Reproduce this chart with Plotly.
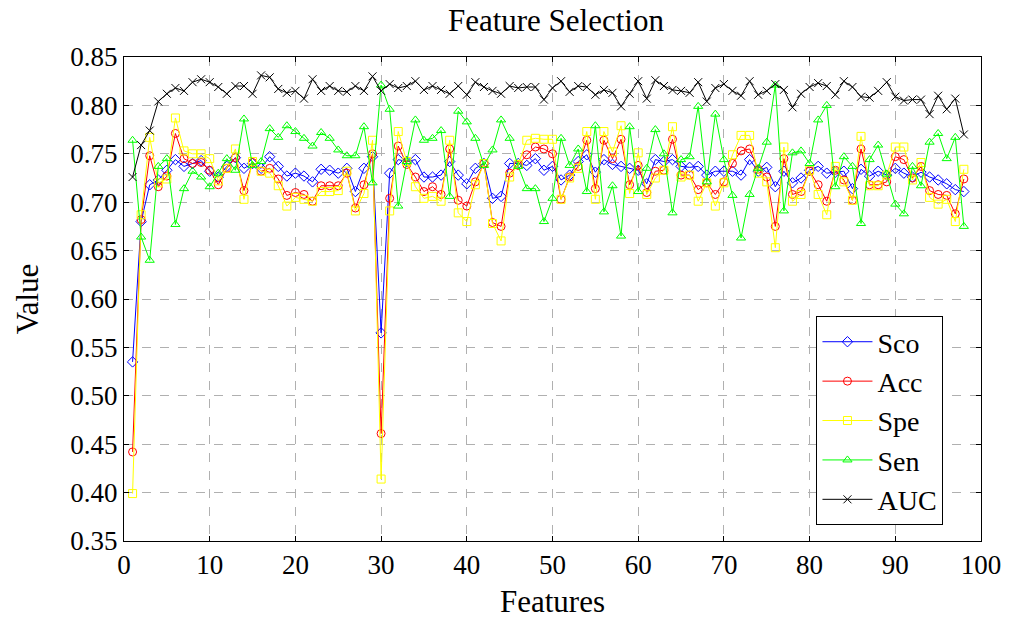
import plotly.graph_objects as go

features = list(range(1, 99))

sco = [0.535, 0.680, 0.718, 0.723, 0.733, 0.744, 0.737, 0.740, 0.743, 0.732,
       0.726, 0.737, 0.746, 0.735, 0.740, 0.735, 0.747, 0.737, 0.727, 0.730,
       0.727, 0.721, 0.734, 0.733, 0.730, 0.735, 0.711, 0.735, 0.747, 0.565,
       0.730, 0.744, 0.742, 0.744, 0.726, 0.726, 0.728, 0.742, 0.728, 0.719,
       0.735, 0.740, 0.704, 0.706, 0.740, 0.740, 0.738, 0.745, 0.733, 0.737,
       0.723, 0.728, 0.742, 0.749, 0.731, 0.744, 0.739, 0.737, 0.735, 0.733,
       0.719, 0.744, 0.742, 0.744, 0.737, 0.736, 0.737, 0.728, 0.732, 0.732,
       0.732, 0.728, 0.744, 0.732, 0.736, 0.716, 0.732, 0.720, 0.725, 0.733,
       0.737, 0.730, 0.731, 0.732, 0.714, 0.734, 0.727, 0.732, 0.728, 0.735,
       0.730, 0.726, 0.731, 0.726, 0.723, 0.719, 0.713, 0.711]

acc = [0.442, 0.682, 0.748, 0.716, 0.727, 0.771, 0.745, 0.740, 0.741, 0.733,
       0.718, 0.735, 0.746, 0.712, 0.741, 0.732, 0.735, 0.724, 0.707, 0.710,
       0.708, 0.701, 0.717, 0.717, 0.717, 0.730, 0.694, 0.718, 0.750, 0.461,
       0.704, 0.758, 0.739, 0.726, 0.711, 0.716, 0.708, 0.755, 0.702, 0.696,
       0.721, 0.740, 0.679, 0.675, 0.730, 0.738, 0.749, 0.757, 0.755, 0.750,
       0.703, 0.726, 0.737, 0.764, 0.714, 0.764, 0.745, 0.765, 0.718, 0.738,
       0.710, 0.732, 0.733, 0.765, 0.728, 0.728, 0.713, 0.720, 0.708, 0.721,
       0.740, 0.753, 0.755, 0.734, 0.726, 0.675, 0.745, 0.708, 0.711, 0.732,
       0.718, 0.701, 0.733, 0.723, 0.702, 0.755, 0.718, 0.718, 0.721, 0.747,
       0.744, 0.725, 0.737, 0.712, 0.708, 0.707, 0.688, 0.724]

spe = [0.399, 0.687, 0.767, 0.720, 0.724, 0.787, 0.753, 0.750, 0.750, 0.745,
       0.722, 0.735, 0.755, 0.703, 0.742, 0.732, 0.730, 0.717, 0.696, 0.705,
       0.703, 0.701, 0.711, 0.711, 0.712, 0.732, 0.691, 0.709, 0.764, 0.414,
       0.691, 0.773, 0.742, 0.716, 0.704, 0.706, 0.701, 0.764, 0.689, 0.680,
       0.718, 0.740, 0.678, 0.660, 0.726, 0.739, 0.764, 0.766, 0.765, 0.765,
       0.703, 0.725, 0.735, 0.773, 0.703, 0.773, 0.752, 0.779, 0.709, 0.751,
       0.708, 0.725, 0.733, 0.778, 0.726, 0.728, 0.701, 0.720, 0.696, 0.720,
       0.749, 0.769, 0.769, 0.730, 0.721, 0.653, 0.757, 0.701, 0.708, 0.733,
       0.708, 0.687, 0.737, 0.721, 0.702, 0.768, 0.717, 0.717, 0.728, 0.757,
       0.757, 0.723, 0.741, 0.705, 0.698, 0.703, 0.680, 0.734]

sen = [0.764, 0.664, 0.640, 0.737, 0.745, 0.677, 0.714, 0.732, 0.726, 0.716,
       0.730, 0.745, 0.733, 0.786, 0.738, 0.742, 0.776, 0.767, 0.779, 0.773,
       0.766, 0.758, 0.772, 0.766, 0.754, 0.748, 0.748, 0.778, 0.720, 0.821,
       0.796, 0.696, 0.742, 0.785, 0.764, 0.766, 0.774, 0.706, 0.794, 0.783,
       0.766, 0.738, 0.754, 0.785, 0.766, 0.737, 0.714, 0.714, 0.680, 0.704,
       0.766, 0.738, 0.755, 0.711, 0.779, 0.690, 0.717, 0.665, 0.778, 0.711,
       0.735, 0.775, 0.750, 0.689, 0.744, 0.747, 0.799, 0.721, 0.791, 0.744,
       0.707, 0.663, 0.708, 0.735, 0.762, 0.821, 0.691, 0.751, 0.753, 0.740,
       0.785, 0.800, 0.716, 0.747, 0.737, 0.678, 0.744, 0.759, 0.729, 0.698,
       0.688, 0.737, 0.717, 0.762, 0.771, 0.745, 0.767, 0.675]

auc = [0.726, 0.759, 0.774, 0.804, 0.812, 0.818, 0.815, 0.824, 0.827, 0.824,
       0.819, 0.812, 0.820, 0.820, 0.812, 0.831, 0.829, 0.817, 0.813, 0.815,
       0.807, 0.827, 0.815, 0.820, 0.815, 0.814, 0.820, 0.815, 0.830, 0.815,
       0.822, 0.818, 0.820, 0.825, 0.816, 0.820, 0.816, 0.812, 0.820, 0.811,
       0.824, 0.819, 0.815, 0.812, 0.820, 0.818, 0.819, 0.819, 0.806, 0.818,
       0.825, 0.814, 0.820, 0.819, 0.811, 0.816, 0.813, 0.799, 0.812, 0.825,
       0.807, 0.826, 0.820, 0.816, 0.815, 0.813, 0.824, 0.804, 0.818, 0.822,
       0.815, 0.810, 0.825, 0.811, 0.815, 0.822, 0.816, 0.798, 0.812, 0.819,
       0.823, 0.820, 0.811, 0.825, 0.819, 0.809, 0.808, 0.815, 0.824, 0.809,
       0.805, 0.806, 0.806, 0.791, 0.810, 0.796, 0.807, 0.770]

series = [
    ("Sco", sco, "#0000ff", "diamond-open"),
    ("Acc", acc, "#ff0000", "circle-open"),
    ("Spe", spe, "#ffff00", "square-open"),
    ("Sen", sen, "#00ff00", "triangle-up-open"),
    ("AUC", auc, "#000000", "x-thin-open"),
]

FONT = "Liberation Serif"

fig = go.Figure()
for name, vals, color, sym in series:
    fig.add_trace(go.Scatter(
        x=features, y=vals, name=name, mode="lines+markers",
        line=dict(color=color, width=1),
        marker=dict(symbol=sym, size=8, color=color, line=dict(color=color, width=1)),
    ))

axis_common = dict(
    showline=True, linecolor="black", linewidth=1, mirror="ticks",
    ticks="inside", ticklen=5, tickcolor="black",
    showgrid=True, gridcolor="#b0b0b0", griddash="dash", gridwidth=1,
    zeroline=False, tickfont=dict(family=FONT, size=27, color="black"),
)

fig.update_layout(
    width=1013, height=624,
    margin=dict(l=124, r=28, t=57, b=81),
    paper_bgcolor="white", plot_bgcolor="white",
    title=dict(text="Feature Selection", x=0.5488, xanchor="center", y=0.967, yanchor="middle",
               font=dict(family=FONT, size=31, color="black")),
    xaxis=dict(range=[0, 100], dtick=10, tick0=0,
               title=dict(text="Features", font=dict(family=FONT, size=31, color="black"), standoff=10),
               **axis_common),
    yaxis=dict(range=[0.35, 0.85], dtick=0.05, tick0=0.35, tickformat=".2f",
               title=dict(text="Value", font=dict(family=FONT, size=31, color="black"), standoff=22),
               **axis_common),
    legend=dict(x=0.808, y=0.033, xanchor="left", yanchor="bottom",
                bgcolor="white", bordercolor="black", borderwidth=1,
                font=dict(family=FONT, size=28, color="black"),
                tracegroupgap=0, itemwidth=50, entrywidth=85),
    showlegend=True,
)

fig.write_html("out.html")
